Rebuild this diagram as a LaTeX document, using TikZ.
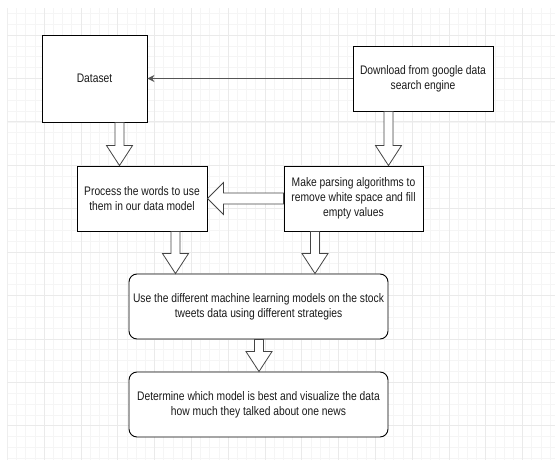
\documentclass[tikz,border=0pt]{standalone}
\usepackage{fontspec}
\setmainfont{Liberation Sans}[FakeStretch=0.83]
\usetikzlibrary{calc,arrows.meta}
\definecolor{gridminor}{HTML}{F5F5F5}
\definecolor{gridmajor}{HTML}{EAEAEA}
\definecolor{arrowgray}{HTML}{555555}
\definecolor{blkgray}{HTML}{444444}
\definecolor{txt}{HTML}{1A1A1A}
\tikzset{
  box/.style={draw=black, line width=0.9pt, fill=white, align=center, text=txt,
    font=\fontsize{12.4}{15}\selectfont, inner sep=0pt},
  rbox/.style={box, rounded corners=8pt},
  blk/.style={draw=blkgray, line width=0.8pt, fill=white, line join=miter},
  thin/.style={draw=arrowgray, line width=1.8pt, -{Stealth[length=7pt,width=7pt]}},
}
% vertical block arrow: #1 = x (px), #2 source node, #3 target node
\newcommand\blockdown[3]{%
  \path[blk] let \p1=(#2.south), \p2=(#3.north) in
    ({#1-4.5},\y1) -- ({#1-4.5},\y2+20pt) -- ({#1-13},\y2+20pt) -- (#1,\y2)
    -- ({#1+13},\y2+20pt) -- ({#1+4.5},\y2+20pt) -- ({#1+4.5},\y1) -- cycle;}
\begin{document}
\begin{tikzpicture}[x=1pt,y=-1pt]
\useasboundingbox (0,0) rectangle (555,460);
\fill[white] (0,0) rectangle (555,460);
% grid
\begin{scope}
\clip (7.3,9) rectangle (555,460);
\foreach \i in {0,...,60} \draw[gridminor, line width=0.5pt] ({7.3+9.2*\i},0) -- ({7.3+9.2*\i},460);
\foreach \j in {-3,...,40} \draw[gridminor, line width=0.5pt] (0,{35+10.85*\j}) -- (555,{35+10.85*\j});
\foreach \i in {0,...,15} \draw[gridmajor, line width=0.6pt] ({7.3+36.8*\i},0) -- ({7.3+36.8*\i},460);
\foreach \j in {-1,...,10} \draw[gridmajor, line width=0.6pt] (0,{35+43.4*\j}) -- (555,{35+43.4*\j});
\end{scope}
% nodes
\node[box, minimum width=105pt, minimum height=87pt] (dataset) at (94.5,78.5) {Dataset};
\node[box, minimum width=140pt, minimum height=65pt] (download) at (423,78.5) {Download from google data\\search engine};
\node[box, minimum width=130pt, minimum height=65pt] (process) at (142,198.5) {Process the words to use\\them in our data model};
\node[box, minimum width=139pt, minimum height=65pt] (parse) at (353.5,198.5) {Make parsing algorithms to\\remove white space and fill\\empty values};
\node[rbox, minimum width=259pt, minimum height=65pt] (ml) at (258.5,306.5) {Use the different machine learning models on the stock\\tweets data using different strategies};
\node[rbox, minimum width=259pt, minimum height=65pt] (det) at (258.5,404.5) {Determine which model is best and visualize the data\\how much they talked about one news};
% connectors
\draw[thin] (download.west) -- (dataset.east);
\blockdown{119.5}{dataset}{process}
\blockdown{388.5}{download}{parse}
\blockdown{175.5}{process}{ml}
\blockdown{315}{parse}{ml}
\blockdown{259}{ml}{det}
\path[blk] let \p1=(parse.west), \p2=(process.east) in
  (\x1,{\y1+5.5pt}) -- (\x2+16pt,{\y1+5.5pt}) -- (\x2+16pt,{\y1+16pt}) -- (\x2,\y1)
  -- (\x2+16pt,{\y1-16pt}) -- (\x2+16pt,{\y1-5.5pt}) -- (\x1,{\y1-5.5pt}) -- cycle;
\end{tikzpicture}
\end{document}
